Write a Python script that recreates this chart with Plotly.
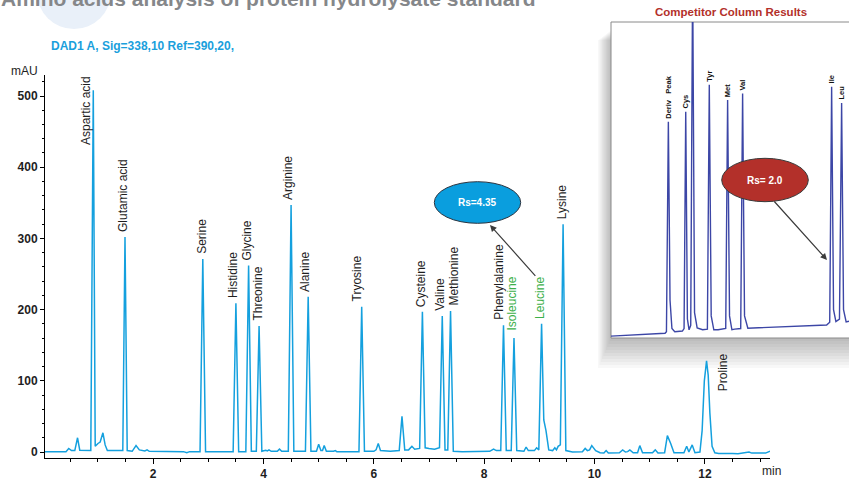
import plotly.graph_objects as go

# ---------------- data ----------------
time_min = [
    0.04, 0.42, 0.47, 0.52, 0.58, 0.63, 0.67, 0.80, 0.87, 0.915,
    0.95, 1.00, 1.04, 1.09, 1.13, 1.17, 1.40, 1.45, 1.49, 1.53,
    1.62, 1.69, 1.75, 1.85, 1.89, 1.93, 2.55, 2.61, 2.66, 2.85,
    2.90, 2.95, 3.45, 3.50, 3.55, 3.68, 3.73, 3.78, 3.87, 3.92,
    3.97, 4.04, 4.07, 4.10, 4.14, 4.25, 4.29, 4.33, 4.45, 4.50,
    4.55, 4.76, 4.81, 4.86, 4.96, 5.00, 5.04, 5.07, 5.10, 5.14,
    5.27, 5.30, 5.33, 5.73, 5.78, 5.83, 6.00, 6.04, 6.08, 6.12,
    6.30, 6.46, 6.51, 6.56, 6.63, 6.69, 6.74, 6.83, 6.88, 6.93,
    7.00, 7.10, 7.19, 7.24, 7.29, 7.34, 7.39, 7.44, 7.60, 8.10,
    8.17, 8.22, 8.30, 8.35, 8.40, 8.49, 8.54, 8.59, 8.72, 8.76,
    8.80, 8.91, 8.95, 8.99, 9.04, 9.08, 9.12, 9.17, 9.24, 9.28,
    9.31, 9.34, 9.38, 9.43, 9.48, 9.60, 9.78, 9.83, 9.87, 9.91,
    9.95, 10.02, 10.10, 10.17, 10.21, 10.25, 10.45, 10.51, 10.56, 10.60,
    10.64, 10.70, 10.78, 10.82, 10.87, 11.05, 11.10, 11.15, 11.27, 11.32,
    11.38, 11.44, 11.62, 11.67, 11.71, 11.77, 11.82, 11.91, 11.95, 11.99,
    12.03, 12.06, 12.09, 12.13, 12.18, 12.25, 12.50, 12.60, 12.80, 12.85,
    13.10, 13.18,
]
signal_mau = [
    0.5, 0.5, 5, 2, 2, 20, 2.5, 2.5, 2, 508,
    8, 12, 14, 27, 10, 2, 1.5, 2, 302, 2,
    1, 9, 3, 1.5, 3, 1, 0.5, -1, 0.5, 0.5,
    271, 0.5, 0.5, 209, 0.5, 0.5, 262, 1, 1, 177,
    1, 2.5, 1.5, 3, 1, 1, 4, 1, 1, 347,
    1, 1, 218, 1, 1, 11, 2, 2, 9, 1,
    1, 2, 0.5, 0.5, 204, 1, 1, 3, 12, 2,
    1, 2, 50, 3, 3, 8, 4, 5, 197, 6,
    5, 4, 6, 191, 3, 3, 198, 1, 0.5, 1,
    4, 2, 2, 178, 2, 2, 160, 2, 1, 7,
    2, 2, 6, 3, 180, 45, 30, 3, 2, 6,
    3, 8, 10, 320, 2, 0, 0.5, 5, 2, 3,
    9, 2, -1, -1.5, 2, -1.5, -1, 3, 0, 0.5,
    3, -1, -1, 9, -1, -1, 3, -1.5, -1, 23,
    12, -1, -1, 8, 0, 10, -1, 0, 30, 100,
    128, 108, 55, 8, -1, -2, -2, -2.5, 0, -1.5,
    -1.5, 1,
]

peak_names = ["Aspartic acid", "Glutamic acid", "Serine", "Histidine", "Glycine",
              "Threonine", "Arginine", "Alanine", "Tryosine", "Cysteine", "Valine",
              "Methionine", "Phenylalanine", "Isoleucine", "Leucine", "Lysine", "Proline"]
peak_times = [0.915, 1.49, 2.90, 3.50, 3.73, 3.92, 4.50, 4.81, 5.78, 6.88, 7.24,
              7.39, 8.35, 8.54, 9.04, 9.43, 12.03]
peak_heights = [508, 302, 271, 209, 262, 177, 347, 218, 204, 197, 191,
                198, 178, 160, 180, 320, 128]
highlighted = ["Isoleucine", "Leucine"]

# competitor inset chromatogram (arbitrary time units, relative response)
inset_time = [0.0, 2.27, 2.33, 2.41, 2.48, 2.56, 2.68, 3.00, 3.07, 3.14,
              3.21, 3.28, 3.35, 3.43, 3.51, 3.62, 3.85, 4.05, 4.13, 4.21,
              4.32, 4.50, 4.82, 4.90, 4.98, 5.08, 5.20, 5.45, 5.53, 5.61,
              5.75, 9.06, 9.19, 9.27, 9.35, 9.45, 9.60, 9.69, 9.77, 9.88, 10.0]
inset_signal = [0.6, 1.5, 2, 68.4, 12, 3, 2, 2.2, 3, 71.6,
                6, 2.6, 4, 115, 8, 3.2, 2.6, 2.8, 80.1, 7,
                2.6, 2.6, 3, 75.3, 7, 2.6, 2.8, 3, 77.4, 7,
                3.1, 4.1, 5, 79.5, 9, 5.2, 6, 74.4, 9, 5.1, 5.3]
inset_names = ["Deriv\u00a0\u00a0\u00a0Peak", "Cys", "Tyr", "Met", "Val", "Ile", "Leu"]
inset_peak_times = [2.41, 3.14, 4.13, 4.90, 5.53, 9.27, 9.69]
inset_peak_heights = [68.4, 71.6, 80.1, 75.3, 77.4, 79.5, 74.4]

x_tick_vals = [2, 4, 6, 8, 10, 12]
y_tick_vals = [0, 100, 200, 300, 400, 500]

rs_main = "Rs=4.35"
rs_competitor = "Rs= 2.0"

# ---------------- layout helpers ----------------
W, H = 849, 480
ML, MR, MT, MB = 45, 0, 22, 22
PW, PH = W - ML - MR, H - MT - MB


def pxx(x):
    return (x - ML) / PW


def pxy(y):
    return (H - MB - y) / PH


BOLD = "Liberation Sans, Arial, sans-serif"
REG = "Liberation Sans, Arial, sans-serif"
BLUE = "#14a0de"
INK = "#1e1e1e"
GREEN = "#3cb04a"
NAVY = "#3c46a6"
RED = "#b3302a"

fig = go.Figure()
fig.add_trace(go.Scatter(x=time_min, y=signal_mau, mode="lines",
                         line=dict(color=BLUE, width=1.5),
                         xaxis="x", yaxis="y", hoverinfo="skip"))
fig.add_trace(go.Scatter(x=inset_time, y=inset_signal, mode="lines",
                         line=dict(color=NAVY, width=1.4),
                         xaxis="x2", yaxis="y2", hoverinfo="skip"))

shapes = []
# faded decorative circle behind the page title
shapes.append(dict(type="circle", xref="paper", yref="paper",
                   x0=pxx(37), x1=pxx(111), y0=pxy(29), y1=pxy(-45),
                   fillcolor="#e9f0f9", line=dict(width=0), layer="below"))
# drop shadow of the inset
for i in range(1, 11):
    shapes.append(dict(type="rect", xref="paper", yref="paper",
                       x0=pxx(611 - 1.3 * i), x1=pxx(870),
                       y0=pxy(338 + 3.0 * i), y1=pxy(30 + i),
                       fillcolor="rgba(0,0,0,0.026)", line=dict(width=0), layer="below"))
# inset frame
shapes.append(dict(type="rect", xref="paper", yref="paper",
                   x0=pxx(611), x1=pxx(870), y0=pxy(338), y1=pxy(22),
                   fillcolor="white", line=dict(color="#8a8a8a", width=1), layer="below"))
# Rs ellipses
shapes.append(dict(type="circle", xref="paper", yref="paper",
                   x0=pxx(434.3), x1=pxx(520.7), y0=pxy(223.3), y1=pxy(181.7),
                   fillcolor="#0a9ede", line=dict(color="#2b3440", width=1)))
shapes.append(dict(type="circle", xref="paper", yref="paper",
                   x0=pxx(721.7), x1=pxx(808.3), y0=pxy(201.7), y1=pxy(158.3),
                   fillcolor=RED, line=dict(color="#3a3a3a", width=1)))

ann = []
# page title (cut off at the top edge)
ann.append(dict(text="<b>Amino acids analysis of protein hydrolysate standard</b>",
                xref="paper", yref="paper", x=pxx(-1), y=pxy(12),
                xanchor="left", yanchor="bottom", showarrow=False,
                font=dict(family=BOLD, size=21, color="#85878a")))
ann.append(dict(text="<b>DAD1 A, Sig=338,10 Ref=390,20,</b>",
                xref="paper", yref="paper", x=pxx(49), y=pxy(46),
                xanchor="left", yanchor="middle", showarrow=False,
                font=dict(family=BOLD, size=12, color="#1a9fdc")))
ann.append(dict(text="mAU", xref="paper", yref="paper", x=pxx(24), y=pxy(71),
                xanchor="center", yanchor="middle", showarrow=False,
                font=dict(family=REG, size=12, color=INK)))
ann.append(dict(text="min", xref="paper", yref="paper", x=pxx(771), y=pxy(471),
                xanchor="center", yanchor="middle", showarrow=False,
                font=dict(family=REG, size=12, color=INK)))
ann.append(dict(text="<b>Competitor Column Results</b>", xref="paper", yref="paper",
                x=pxx(731), y=pxy(12), xanchor="center", yanchor="middle",
                showarrow=False, font=dict(family=BOLD, size=11.5, color=RED)))

# peak labels
special_xshift = {"Methionine": 2.5, "Tryosine": -5, "Phenylalanine": -4,
                  "Histidine": -3, "Alanine": -3, "Arginine": -3, "Valine": -3}
for name, t, h in zip(peak_names, peak_times, peak_heights):
    a = dict(text=name, x=t, y=h, xref="x", yref="y", textangle=-90,
             xanchor="center", yanchor="bottom", showarrow=False,
             xshift=special_xshift.get(name, -1.5), yshift=3,
             font=dict(family=REG, size=12,
                       color=GREEN if name in highlighted else INK))
    if name == "Isoleucine":
        a.update(yshift=6)
    if name == "Aspartic acid":
        a.update(y=h - 80, xshift=-8, yshift=0)
    if name == "Proline":
        a.update(y=h - 46, xshift=16, yshift=0)
    ann.append(a)

# inset labels
for name, t, h in zip(inset_names, inset_peak_times, inset_peak_heights):
    ann.append(dict(text="<b>" + name + "</b>", x=t, y=h, xref="x2", yref="y2",
                    textangle=-90, xanchor="center", yanchor="bottom",
                    showarrow=False, yshift=1,
                    font=dict(family=BOLD, size=7.5, color="#111111")))

# Rs texts
ann.append(dict(text="<b>" + rs_main + "</b>", xref="paper", yref="paper",
                x=pxx(477.5), y=pxy(202.5), xanchor="center", yanchor="middle",
                showarrow=False, font=dict(family=BOLD, size=10, color="white")))
ann.append(dict(text="<b>" + rs_competitor + "</b>", xref="paper", yref="paper",
                x=pxx(765), y=pxy(180), xanchor="center", yanchor="middle",
                showarrow=False, font=dict(family=BOLD, size=10, color="white")))
# arrows
ann.append(dict(text="", xref="paper", yref="paper", x=pxx(490), y=pxy(225),
                ax=46.7, ay=52.3, showarrow=True, arrowhead=2, arrowsize=1.1,
                arrowwidth=1.2, arrowcolor="#3b3b3b", standoff=0))
ann.append(dict(text="", xref="paper", yref="paper", x=pxx(827), y=pxy(260),
                ax=-54, ay=-60, showarrow=True, arrowhead=2, arrowsize=1.1,
                arrowwidth=1.2, arrowcolor="#3b3b3b", standoff=0))

tickfont = dict(family=BOLD, size=12, color=INK, weight="bold")

fig.update_layout(
    width=W, height=H,
    margin=dict(l=ML, r=MR, t=MT, b=MB, pad=0),
    paper_bgcolor="white", plot_bgcolor="rgba(0,0,0,0)",
    showlegend=False, hovermode=False,
    shapes=shapes, annotations=ann,
    xaxis=dict(domain=[0, pxx(770)], range=[0.04, 13.18], anchor="y",
               tickmode="array", tickvals=x_tick_vals,
               ticktext=[str(v) for v in x_tick_vals],
               ticks="outside", ticklen=5, tickwidth=1, tickcolor="black",
               showline=True, linecolor="black", linewidth=1,
               showgrid=False, zeroline=False, tickfont=tickfont,
               minor=dict(tickmode="linear", tick0=0, dtick=0.5, ticks="outside",
                          ticklen=3, tickcolor="black", showgrid=False)),
    yaxis=dict(domain=[0, pxy(75)], range=[-8.4, 529.5], anchor="x",
               tickmode="array", tickvals=y_tick_vals,
               ticktext=[str(v) for v in y_tick_vals],
               ticks="outside", ticklen=4, tickwidth=1, tickcolor="black",
               showline=True, linecolor="black", linewidth=1,
               showgrid=False, zeroline=False, tickfont=tickfont,
               minor=dict(tickmode="linear", tick0=0, dtick=20, ticks="outside",
                          ticklen=2.5, tickcolor="black", showgrid=False)),
    xaxis2=dict(domain=[pxx(611), 1], range=[0, 10], anchor="y2", visible=False,
                showgrid=False, zeroline=False),
    yaxis2=dict(domain=[pxy(338), 1], range=[0, 100], anchor="x2", visible=False,
                showgrid=False, zeroline=False),
)

fig.write_html("out.html",
               config={"displayModeBar": False, "staticPlot": True},
               post_script="document.body.style.margin='0px';"
                           "document.body.style.padding='0px';")
